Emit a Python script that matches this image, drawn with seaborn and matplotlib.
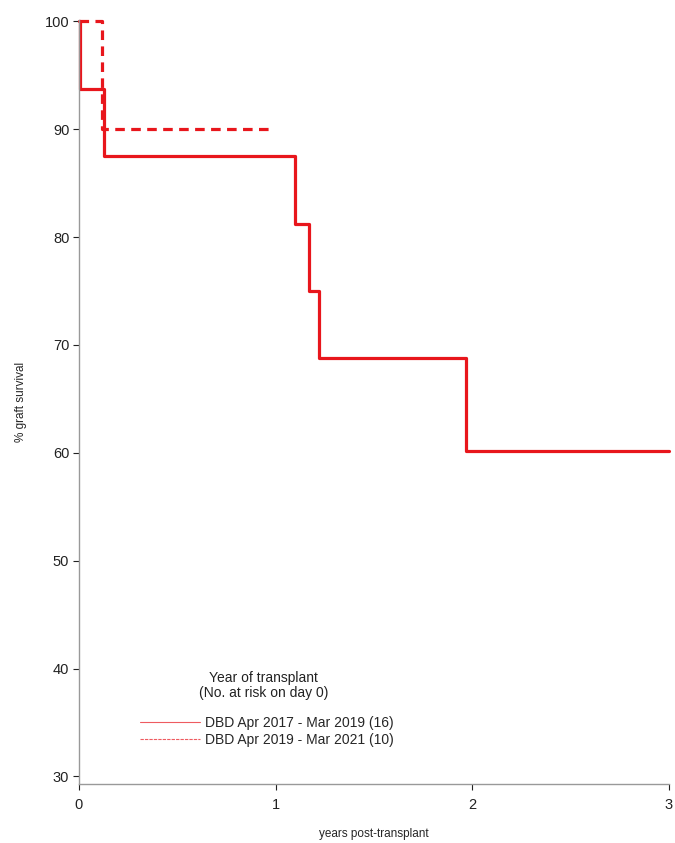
import matplotlib
matplotlib.use("Agg")
import matplotlib.pyplot as plt
from matplotlib.lines import Line2D
import seaborn as sns
import pandas as pd

# Data (Kaplan-Meier step points)
times_a = [0.0, 0.005, 0.127, 1.10, 1.17, 1.22, 1.97, 3.0]
surv_a = [100, 93.75, 87.5, 81.25, 75.0, 68.75, 60.16, 60.16]
times_b = [0.0, 0.115, 0.99]
surv_b = [100, 90.0, 90.0]
labels = ["DBD Apr 2017 - Mar 2019 (16)", "DBD Apr 2019 - Mar 2021 (10)"]
legend_title = "Year of transplant\n(No. at risk on day 0)"
yticks = [30, 40, 50, 60, 70, 80, 90, 100]
xticks = [0, 1, 2, 3]

df = pd.concat([
    pd.DataFrame({"t": times_a, "s": surv_a, "grp": labels[0]}),
    pd.DataFrame({"t": times_b, "s": surv_b, "grp": labels[1]}),
])

sns.set_theme(style="white")
plt.rcParams["font.family"] = ["Liberation Sans", "DejaVu Sans"]

red = "#e8161c"
fig = plt.figure(figsize=(6.75, 8.43), dpi=100)
ax = fig.add_axes([0.117, 0.070, 0.874, 0.906])

sns.lineplot(data=df, x="t", y="s", style="grp", style_order=labels,
             dashes={labels[0]: "", labels[1]: (3, 2)},
             color=red, linewidth=2.3, estimator=None, sort=False,
             drawstyle="steps-post", legend=False, ax=ax)
for ln in ax.lines:
    ln.set_clip_on(False)

ax.set_xlim(0, 3)
ax.set_ylim(29.3, 100.1)
ax.set_xticks(xticks)
ax.set_yticks(yticks)
ax.tick_params(axis="both", labelsize=10.5, colors="#222222", length=4, width=0.8,
               direction="out", bottom=True, left=True)
ax.tick_params(axis="x", pad=6)
ax.tick_params(axis="y", pad=3)
for t in ax.get_xticklines() + ax.get_yticklines():
    t.set_color("#888888")
for side in ["top", "right"]:
    ax.spines[side].set_visible(False)
for side in ["left", "bottom"]:
    ax.spines[side].set_color("#999999")
    ax.spines[side].set_linewidth(1.0)

ax.set_xlabel("years post-transplant", fontsize=8.5)
ax.set_ylabel("% graft survival", fontsize=8.5)
ax.xaxis.set_label_coords(0.5, -0.058)
ax.yaxis.set_label_coords(-0.088, 0.5)

# legend title as separate text to reproduce the gap
ax.text(0.313, 0.129, legend_title, transform=ax.transAxes, ha="center", va="center",
        fontsize=10, color="#222222", linespacing=1.15)
handles = [Line2D([0], [0], color=red, lw=0.8, alpha=0.7),
           Line2D([0], [0], color=red, lw=0.8, alpha=0.7, linestyle=(0, (3, 1)))]
leg = ax.legend(handles, labels, loc="center", bbox_to_anchor=(0.319, 0.069),
                frameon=False, fontsize=10, handlelength=4.3,
                handletextpad=0.4, labelspacing=0.2)

fig.savefig("out.png", dpi=100, facecolor="white")
